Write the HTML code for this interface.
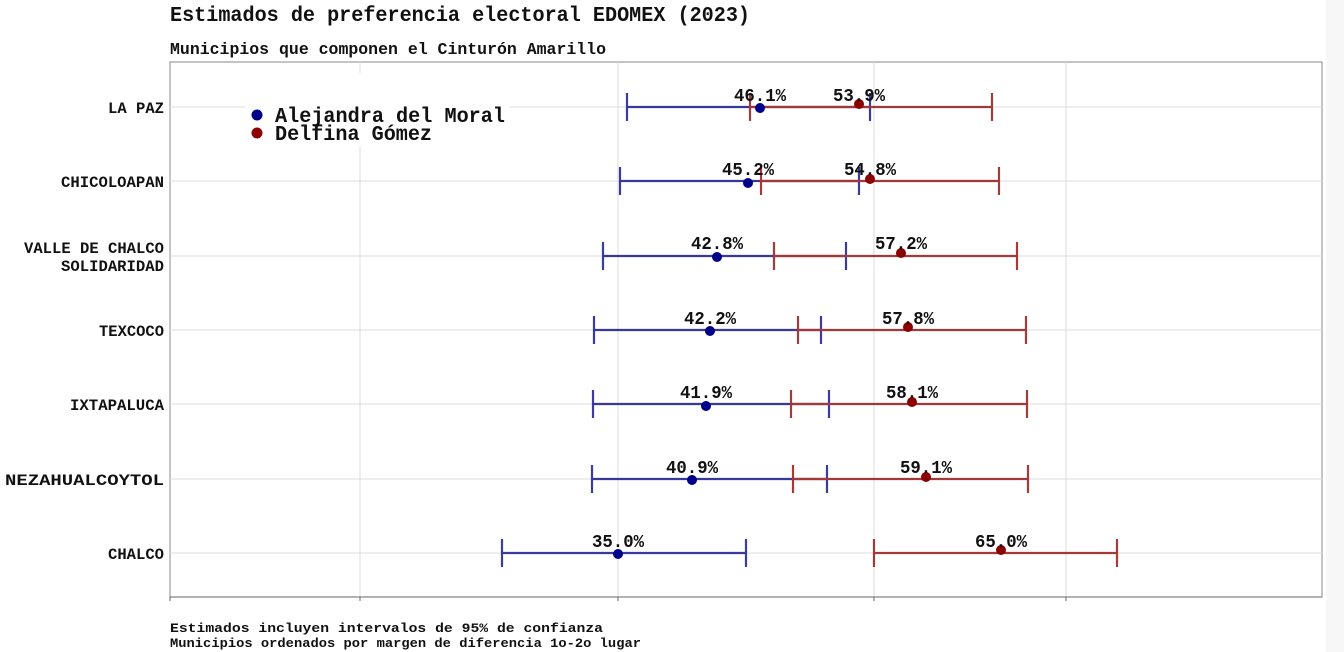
<!DOCTYPE html>
<html><head><meta charset="utf-8"><style>body{margin:0;background:#fff}svg{display:block}</style></head><body>
<svg width="1344" height="652" xmlns="http://www.w3.org/2000/svg" font-family="Liberation Mono, DejaVu Sans Mono, monospace">
<rect width="1344" height="652" fill="#fff"/>
<text x="170" y="21" font-size="21" font-weight="600" textLength="580" lengthAdjust="spacingAndGlyphs" fill="#111">Estimados de preferencia electoral EDOMEX (2023)</text>
<text x="170" y="54" font-size="17" font-weight="600" textLength="436" lengthAdjust="spacingAndGlyphs" fill="#111">Municipios que componen el Cinturón Amarillo</text>
<rect x="170" y="62" width="1152" height="535" fill="#fff" stroke="#888" stroke-width="1"/>
<g stroke="#dcdcdc" stroke-width="1">
<line x1="360" y1="62" x2="360" y2="597"/><line x1="618" y1="62" x2="618" y2="597"/><line x1="874" y1="62" x2="874" y2="597"/><line x1="1066" y1="62" x2="1066" y2="597"/>
<line x1="170" y1="107" x2="1322" y2="107"/><line x1="170" y1="181" x2="1322" y2="181"/><line x1="170" y1="256" x2="1322" y2="256"/><line x1="170" y1="330" x2="1322" y2="330"/><line x1="170" y1="404" x2="1322" y2="404"/><line x1="170" y1="479" x2="1322" y2="479"/><line x1="170" y1="553" x2="1322" y2="553"/>
</g>
<line x1="170" y1="597" x2="1322" y2="597" stroke="#666"/>
<g stroke="#666"><line x1="170" y1="597" x2="170" y2="601"/><line x1="360" y1="597" x2="360" y2="601"/><line x1="618" y1="597" x2="618" y2="601"/><line x1="874" y1="597" x2="874" y2="601"/><line x1="1066" y1="597" x2="1066" y2="601"/></g>
<g font-size="16" font-weight="bold" fill="#111" text-anchor="end">
<text x="164" y="113" textLength="56" lengthAdjust="spacingAndGlyphs">LA PAZ</text>
<text x="164" y="187" textLength="103" lengthAdjust="spacingAndGlyphs">CHICOLOAPAN</text>
<text x="164" y="253" textLength="140" lengthAdjust="spacingAndGlyphs">VALLE DE CHALCO</text>
<text x="164" y="271" textLength="103" lengthAdjust="spacingAndGlyphs">SOLIDARIDAD</text>
<text x="164" y="336" textLength="65" lengthAdjust="spacingAndGlyphs">TEXCOCO</text>
<text x="164" y="410" textLength="94" lengthAdjust="spacingAndGlyphs">IXTAPALUCA</text>
<text x="164" y="485" textLength="159" lengthAdjust="spacingAndGlyphs">NEZAHUALCOYTOL</text>
<text x="164" y="559" textLength="56" lengthAdjust="spacingAndGlyphs">CHALCO</text>
</g>
<g stroke-width="2.2" fill="none" opacity="0.85">
<g stroke="#1a1a8c">
<path d="M627 107H870M627 93V121M870 93V121"/>
<path d="M620 181H859M620 167V195M859 167V195"/>
<path d="M603 256H846M603 242V270M846 242V270"/>
<path d="M594 330H821M594 316V344M821 316V344"/>
<path d="M593 404H829M593 390V418M829 390V418"/>
<path d="M592 479H827M592 465V493M827 465V493"/>
<path d="M502 553H746M502 539V567M746 539V567"/>
</g>
<g stroke="#951a1a">
<path d="M750 107H992M750 93V121M992 93V121"/>
<path d="M761 181H999M761 167V195M999 167V195"/>
<path d="M774 256H1017M774 242V270M1017 242V270"/>
<path d="M798 330H1026M798 316V344M1026 316V344"/>
<path d="M791 404H1027M791 390V418M1027 390V418"/>
<path d="M793 479H1028M793 465V493M1028 465V493"/>
<path d="M874 553H1117M874 539V567M1117 539V567"/>
</g></g>
<g fill="#00008b"><circle cx="760" cy="108" r="5"/><circle cx="748" cy="183" r="5"/><circle cx="717" cy="257" r="5"/><circle cx="710" cy="331" r="5"/><circle cx="706" cy="406" r="5"/><circle cx="692" cy="480" r="5"/><circle cx="618" cy="554" r="5"/></g>
<g fill="#8b0000"><circle cx="859" cy="104" r="5"/><circle cx="870" cy="179" r="5"/><circle cx="901" cy="253" r="5"/><circle cx="908" cy="327" r="5"/><circle cx="912" cy="402" r="5"/><circle cx="926" cy="477" r="5"/><circle cx="1001" cy="550" r="5"/></g>
<g font-size="18" font-weight="600" fill="#111" text-anchor="middle">
<text x="760" y="101" textLength="52" lengthAdjust="spacingAndGlyphs">46.1%</text>
<text x="859" y="101" textLength="52" lengthAdjust="spacingAndGlyphs">53.9%</text>
<text x="748" y="175" textLength="52" lengthAdjust="spacingAndGlyphs">45.2%</text>
<text x="870" y="175" textLength="52" lengthAdjust="spacingAndGlyphs">54.8%</text>
<text x="717" y="249" textLength="52" lengthAdjust="spacingAndGlyphs">42.8%</text>
<text x="901" y="249" textLength="52" lengthAdjust="spacingAndGlyphs">57.2%</text>
<text x="710" y="324" textLength="52" lengthAdjust="spacingAndGlyphs">42.2%</text>
<text x="908" y="324" textLength="52" lengthAdjust="spacingAndGlyphs">57.8%</text>
<text x="706" y="398" textLength="52" lengthAdjust="spacingAndGlyphs">41.9%</text>
<text x="912" y="398" textLength="52" lengthAdjust="spacingAndGlyphs">58.1%</text>
<text x="692" y="473" textLength="52" lengthAdjust="spacingAndGlyphs">40.9%</text>
<text x="926" y="473" textLength="52" lengthAdjust="spacingAndGlyphs">59.1%</text>
<text x="618" y="547" textLength="52" lengthAdjust="spacingAndGlyphs">35.0%</text>
<text x="1001" y="547" textLength="52" lengthAdjust="spacingAndGlyphs">65.0%</text>
</g>
<rect x="245" y="73" width="265" height="74" fill="#fff"/>
<circle cx="257" cy="115" r="5.5" fill="#00008b"/>
<circle cx="257" cy="133" r="5.5" fill="#8b0000"/>
<g font-size="21" font-weight="600" fill="#111">
<text x="275" y="122" textLength="230" lengthAdjust="spacingAndGlyphs">Alejandra del Moral</text>
<text x="275" y="140" textLength="157" lengthAdjust="spacingAndGlyphs">Delfina Gómez</text>
</g>
<g font-size="13" font-weight="600" fill="#111">
<text x="170" y="632" textLength="433" lengthAdjust="spacingAndGlyphs">Estimados incluyen intervalos de 95% de confianza</text>
<text x="170" y="647" textLength="471" lengthAdjust="spacingAndGlyphs">Municipios ordenados por margen de diferencia 1o-2o lugar</text>
</g>
<rect x="1326" y="0" width="18" height="652" fill="#f7f7f7"/>
</svg>
</body></html>
